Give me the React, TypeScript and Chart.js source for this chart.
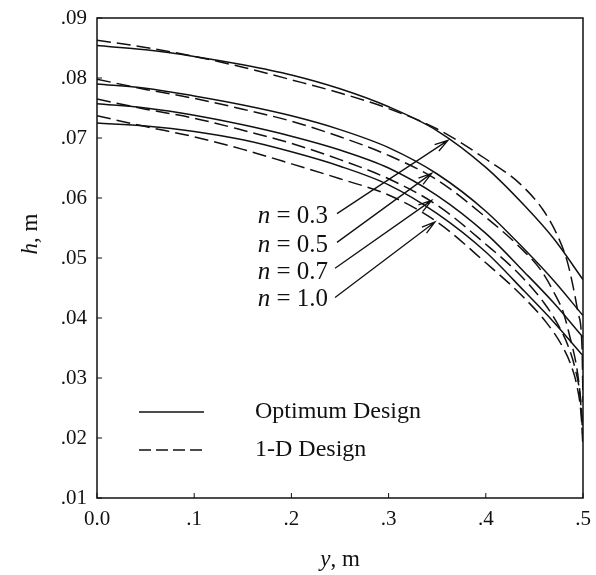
import React, { useEffect, useRef } from 'react';
import { Chart, registerables } from 'chart.js';
Chart.register(...registerables);

const FONT = "'Liberation Serif', 'Times New Roman', serif";
const INK = '#111';

// Axis ticks
const xTickValues = [0, 0.1, 0.2, 0.3, 0.4, 0.5];
const xTickLabels = ['0.0', '.1', '.2', '.3', '.4', '.5'];
const yTickValues = [0.01, 0.02, 0.03, 0.04, 0.05, 0.06, 0.07, 0.08, 0.09];
const yTickLabels = ['.01', '.02', '.03', '.04', '.05', '.06', '.07', '.08', '.09'];

// Optimum Design (solid)
const optY = [0, 0.05, 0.1, 0.15, 0.2, 0.25, 0.3, 0.35, 0.4, 0.44, 0.47, 0.5];
const optH03 = [0.0854, 0.0847, 0.0836, 0.0822, 0.0805, 0.0782, 0.0752, 0.0712, 0.0651, 0.0587, 0.0532, 0.0464];
const optH05 = [0.079, 0.0783, 0.077, 0.0755, 0.0737, 0.0714, 0.0684, 0.064, 0.0578, 0.0514, 0.0462, 0.0404];
const optH07 = [0.0757, 0.075, 0.0738, 0.0722, 0.0703, 0.068, 0.065, 0.0604, 0.0541, 0.0476, 0.0425, 0.0368];
const optH10 = [0.0725, 0.072, 0.0711, 0.0697, 0.0677, 0.0653, 0.0622, 0.0574, 0.051, 0.0444, 0.0393, 0.0337];

// 1-D Design (dashed)
const oneDY03 = [0, 0.05, 0.1, 0.15, 0.2, 0.25, 0.3, 0.35, 0.4, 0.435, 0.459, 0.473, 0.4835, 0.49, 0.495, 0.499, 0.5];
const oneDH03 = [0.0863, 0.0851, 0.0836, 0.0818, 0.0797, 0.0775, 0.0749, 0.0715, 0.0665, 0.0624, 0.058, 0.054, 0.0496, 0.0451, 0.0408, 0.0351, 0.026];
const oneDY05 = [0, 0.05, 0.1, 0.15, 0.2, 0.25, 0.3, 0.35, 0.4, 0.435, 0.457, 0.469, 0.48, 0.4866, 0.4935, 0.497, 0.5];
const oneDH05 = [0.0798, 0.0781, 0.0766, 0.0748, 0.0728, 0.0702, 0.0671, 0.063, 0.0568, 0.0518, 0.0479, 0.0446, 0.0408, 0.0368, 0.0318, 0.0274, 0.0215];
const oneDY07 = [0, 0.05, 0.1, 0.15, 0.2, 0.25, 0.3, 0.35, 0.4, 0.435, 0.46, 0.475, 0.485, 0.492, 0.497, 0.5];
const oneDH07 = [0.0765, 0.0748, 0.0733, 0.0713, 0.0691, 0.0664, 0.0632, 0.0588, 0.0523, 0.0472, 0.0425, 0.0387, 0.0352, 0.0315, 0.027, 0.02];
const oneDY10 = [0, 0.05, 0.1, 0.15, 0.2, 0.25, 0.3, 0.35, 0.4, 0.4386, 0.463, 0.478, 0.488, 0.494, 0.498, 0.5];
const oneDH10 = [0.0737, 0.0719, 0.0702, 0.0681, 0.0657, 0.0632, 0.0605, 0.056, 0.0492, 0.0435, 0.0391, 0.0355, 0.032, 0.0285, 0.024, 0.0185];

// Annotations: n labels and arrows (data units)
const nLabels = ['0.3', '0.5', '0.7', '1.0'];
const nLabelRightY = 0.2377;
const nLabelH = [0.0569, 0.0521, 0.0476, 0.0431];
const arrowStartY = [0.2469, 0.2469, 0.2449, 0.2449];
const arrowStartH = [0.0574, 0.0526, 0.0483, 0.0434];
const arrowTipY = [0.3611, 0.3443, 0.3443, 0.3477];
const arrowTipH = [0.0696, 0.0641, 0.0596, 0.056];

const legendLabels = ['Optimum Design', '1-D Design'];

const pts = (xs: number[], ys: number[]) => xs.map((x, i) => ({ x, y: ys[i] }));

function drawMixed(ctx: CanvasRenderingContext2D, parts: [string, boolean][], x: number, y: number, align: 'left' | 'center' | 'right', size: number) {
  const widths = parts.map(([t, it]) => {
    ctx.font = `${it ? 'italic ' : ''}${size}px ${FONT}`;
    return ctx.measureText(t).width;
  });
  const total = widths.reduce((a, b) => a + b, 0);
  let cx = align === 'left' ? x : align === 'center' ? x - total / 2 : x - total;
  ctx.textAlign = 'left';
  ctx.textBaseline = 'middle';
  parts.forEach(([t, it], i) => {
    ctx.font = `${it ? 'italic ' : ''}${size}px ${FONT}`;
    ctx.fillText(t, cx, y);
    cx += widths[i];
  });
}

const decorPlugin = {
  id: 'decor',
  afterDraw(chart: any) {
    const { ctx, chartArea: a, scales } = chart;
    const xs = scales.x, ys = scales.y;
    ctx.save();
    ctx.strokeStyle = INK;
    ctx.fillStyle = INK;
    // frame
    ctx.lineWidth = 1.5;
    ctx.strokeRect(a.left, a.top, a.right - a.left, a.bottom - a.top);
    // inward ticks
    ctx.lineWidth = 1;
    ctx.beginPath();
    yTickValues.forEach((v) => {
      const py = ys.getPixelForValue(v);
      ctx.moveTo(a.left, py); ctx.lineTo(a.left + 5, py);
    });
    xTickValues.forEach((v) => {
      const px = xs.getPixelForValue(v);
      ctx.moveTo(px, a.bottom); ctx.lineTo(px, a.bottom - 5);
    });
    ctx.stroke();

    // arrows
    ctx.lineWidth = 1.3;
    arrowStartY.forEach((sy, i) => {
      const x0 = xs.getPixelForValue(sy), y0 = ys.getPixelForValue(arrowStartH[i]);
      const x1 = xs.getPixelForValue(arrowTipY[i]), y1 = ys.getPixelForValue(arrowTipH[i]);
      ctx.beginPath();
      ctx.moveTo(x0, y0); ctx.lineTo(x1, y1);
      const ang = Math.atan2(y1 - y0, x1 - x0);
      const L = 14, sp = 0.28;
      ctx.moveTo(x1 - L * Math.cos(ang - sp), y1 - L * Math.sin(ang - sp));
      ctx.lineTo(x1, y1);
      ctx.lineTo(x1 - L * Math.cos(ang + sp), y1 - L * Math.sin(ang + sp));
      ctx.stroke();
    });
    // n labels
    nLabels.forEach((lab, i) => {
      drawMixed(ctx, [['n', true], [' = ' + lab, false]], xs.getPixelForValue(nLabelRightY), ys.getPixelForValue(nLabelH[i]), 'right', 25);
    });

    // legend
    const lx0 = a.left + 42, lx1 = a.left + 107, tx = a.left + 158;
    const ly = [a.top + 394, a.top + 432];
    ctx.lineWidth = 1.4;
    ctx.beginPath(); ctx.moveTo(lx0, ly[0]); ctx.lineTo(lx1, ly[0]); ctx.stroke();
    ctx.setLineDash([12, 5]);
    ctx.beginPath(); ctx.moveTo(lx0, ly[1]); ctx.lineTo(lx1, ly[1]); ctx.stroke();
    ctx.setLineDash([]);
    legendLabels.forEach((t, i) => drawMixed(ctx, [[t, false]], tx, ly[i], 'left', 24));

    // axis titles
    drawMixed(ctx, [['y', true], [', m', false]], (a.left + a.right) / 2, 560, 'center', 23);
    ctx.translate(31, 234);
    ctx.rotate(-Math.PI / 2);
    drawMixed(ctx, [['h', true], [', m', false]], 0, 0, 'center', 23);
    ctx.restore();
  },
};

export default function App() {
  const ref = useRef<HTMLCanvasElement>(null);
  useEffect(() => {
    if (!ref.current) return;
    const solid = (data: any) => ({ data, borderColor: INK, borderWidth: 1.5, pointRadius: 0, cubicInterpolationMode: 'monotone', fill: false });
    const dashed = (data: any) => ({ ...solid(data), borderDash: [14, 6] });
    const chart = new Chart(ref.current, {
      type: 'line',
      data: {
        datasets: [
          solid(pts(optY, optH03)),
          solid(pts(optY, optH05)),
          solid(pts(optY, optH07)),
          solid(pts(optY, optH10)),
          dashed(pts(oneDY03, oneDH03)),
          dashed(pts(oneDY05, oneDH05)),
          dashed(pts(oneDY07, oneDH07)),
          dashed(pts(oneDY10, oneDH10)),
        ] as any,
      },
      options: {
        animation: false,
        responsive: false,
        layout: { padding: { top: 18, right: 13, left: 0, bottom: 0 } },
        plugins: { legend: { display: false }, tooltip: { enabled: false } },
        scales: {
          x: {
            type: 'linear',
            min: 0,
            max: 0.5,
            grid: { display: false, drawTicks: false },
            border: { display: false },
            afterBuildTicks: (s: any) => { s.ticks = xTickValues.map((v) => ({ value: v })); },
            afterFit: (s: any) => { s.height = 77; s.paddingLeft = 0; s.paddingRight = 0; },
            ticks: {
              padding: 9,
              color: INK,
              maxRotation: 0,
              font: { family: FONT, size: 21 },
              callback: (_v: any, i: number) => xTickLabels[i],
            },
          },
          y: {
            type: 'linear',
            min: 0.01,
            max: 0.09,
            grid: { display: false, drawTicks: false },
            border: { display: false },
            afterBuildTicks: (s: any) => { s.ticks = yTickValues.map((v) => ({ value: v })); },
            afterFit: (s: any) => { s.width = 97; s.paddingTop = 0; s.paddingBottom = 0; },
            ticks: {
              padding: 10,
              color: INK,
              font: { family: FONT, size: 21 },
              callback: (_v: any, i: number) => yTickLabels[i],
            },
          },
        },
      },
      plugins: [decorPlugin],
    } as any);
    return () => chart.destroy();
  }, []);
  return (
    <div style={{ position: 'absolute', left: 0, top: 0, width: 596, height: 575, background: '#fff' }}>
      <canvas ref={ref} width={596} height={575} style={{ display: 'block' }} />
    </div>
  );
}
